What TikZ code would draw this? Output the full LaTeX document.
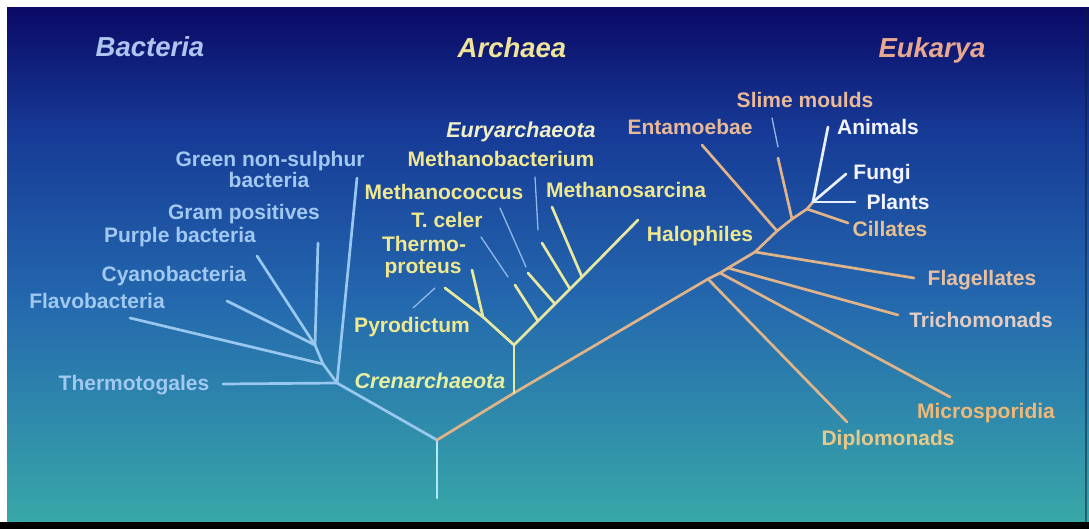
\documentclass[tikz,border=0pt]{standalone}
\usepackage{fontspec}
\setmainfont{Liberation Sans}
\definecolor{bgA}{HTML}{0A0A66}
\definecolor{bgB}{HTML}{163A96}
\definecolor{bgC}{HTML}{2468AE}
\definecolor{bgD}{HTML}{38A8A8}
\definecolor{bactline}{HTML}{98C8F0}
\definecolor{rootline}{HTML}{B0E8F8}
\definecolor{archline}{HTML}{E8E8A0}
\definecolor{eukline}{HTML}{E0B488}
\definecolor{whline}{HTML}{E8F0FF}
\definecolor{leadline}{HTML}{90B8E8}
\definecolor{bacttxt}{HTML}{A0C8F0}
\definecolor{bacttitle}{HTML}{B0C4F0}
\definecolor{archtxt}{HTML}{F0E890}
\definecolor{archtitle}{HTML}{F0E498}
\definecolor{eurytxt}{HTML}{F0F0C8}
\definecolor{crentxt}{HTML}{E8F0A0}
\definecolor{euktitle}{HTML}{E8A890}
\definecolor{euktxt}{HTML}{E8B898}
\definecolor{whtxt}{HTML}{F4F4FF}
\definecolor{cilltxt}{HTML}{E8C090}
\definecolor{flagtxt}{HTML}{E8C0A0}
\definecolor{trichtxt}{HTML}{E4CCC4}
\definecolor{microtxt}{HTML}{F0B878}
\definecolor{diplotxt}{HTML}{E8C888}
\tikzset{
  branchline/.style={line width=2.7pt, line cap=round, line join=round},
  bact/.style={branchline, draw=bactline},
  rootst/.style={branchline, draw=rootline},
  arch/.style={branchline, draw=archline},
  euk/.style={branchline, draw=eukline},
  wht/.style={branchline, draw=whline},
  leader/.style={line width=1.3pt, draw=leadline, line cap=round},
  lbl/.style={anchor=base, inner sep=0pt, font=\bfseries\fontsize{21}{24}\selectfont},
  ttl/.style={anchor=base, inner sep=0pt, font=\bfseries\itshape\fontsize{27.5}{30}\selectfont},
  itl/.style={anchor=base, inner sep=0pt, font=\bfseries\itshape\fontsize{21.5}{24}\selectfont},
}
\begin{document}
\begin{tikzpicture}[x=1pt,y=-1pt]
\useasboundingbox (0,0) rectangle (1089,529);
% background
\fill[white] (0,0) rectangle (1089,529);
\shade[top color=bgA, bottom color=bgB] (7,8) rectangle (1089,131);
\shade[top color=bgB, bottom color=bgC] (7,130) rectangle (1089,301);
\shade[top color=bgC, bottom color=bgD] (7,300) rectangle (1089,522);
\fill[black] (0,522) rectangle (1089,529);
\fill[black!70!bgC, opacity=0.5] (1085,8) rectangle (1087,522);

% ---- coordinates ----
\coordinate (rb) at (437,498);
\coordinate (r) at (437,440);
% bacteria
\coordinate (B0) at (337,383);
\coordinate (B1) at (323,364);
\coordinate (B2) at (315,345);
\coordinate (tT) at (223,384);
\coordinate (tG) at (357,178);
\coordinate (tF) at (130,318);
\coordinate (tC) at (227,301);
\coordinate (tP) at (257,256);
\coordinate (tGr) at (318,243);
% archaea
\coordinate (A0) at (514,393);
\coordinate (A1) at (514,345);
\coordinate (A2) at (483,317);
\coordinate (tPy) at (445,288);
\coordinate (tTh) at (472,270);
\coordinate (a1) at (538,321);
\coordinate (a2) at (555,304);
\coordinate (a3) at (570,289);
\coordinate (a4) at (582,277);
\coordinate (ta1) at (515,285);
\coordinate (ta2) at (528,273);
\coordinate (ta3) at (542,243);
\coordinate (ta4) at (552,207);
\coordinate (tH) at (638,220);
% eukarya
\coordinate (E1) at (708,279);
\coordinate (E2) at (720,273);
\coordinate (E3) at (728,268);
\coordinate (E4) at (755,252);
\coordinate (E5) at (777,231);
\coordinate (E6) at (792,219);
\coordinate (E7) at (807,209);
\coordinate (E8) at (813,202);
\coordinate (tDi) at (847,422);
\coordinate (tMi) at (950,397);
\coordinate (tTr) at (898,315);
\coordinate (tFl) at (914,278);
\coordinate (tEn) at (702,145);
\coordinate (tSl) at (778,158);
\coordinate (tCi) at (848,223);
\coordinate (tAn) at (828,127);
\coordinate (tFu) at (846,174);
\coordinate (tPl) at (855,202);
% leader ends
\coordinate (lPy1) at (413,308); \coordinate (lPy2) at (435,288);
\coordinate (lTc1) at (481,237); \coordinate (lTc2) at (508,277);
\coordinate (lMc1) at (500,208); \coordinate (lMc2) at (526,267);
\coordinate (lMb1) at (535,177); \coordinate (lMb2) at (538,230);
\coordinate (lSl1) at (772,118); \coordinate (lSl2) at (778,147);

% ---- branches ----
\draw[rootst] (rb) -- (r);
\draw[bact] (r) -- (B0) -- (B1) -- (B2);
\draw[bact] (B0) -- (tT);
\draw[bact] (B0) -- (tG);
\draw[bact] (B1) -- (tF);
\draw[bact] (B2) -- (tC);
\draw[bact] (B2) -- (tP);
\draw[bact] (B2) -- (tGr);

\draw[euk] (r) -- (A0) -- (E1) -- (E2) -- (E3) -- (E4) -- (E5) -- (E6) -- (E7) -- (E8);
\draw[euk] (E1) -- (tDi);
\draw[euk] (E2) -- (tMi);
\draw[euk] (E3) -- (tTr);
\draw[euk] (E4) -- (tFl);
\draw[euk] (E5) -- (tEn);
\draw[euk] (E6) -- (tSl);
\draw[euk] (E7) -- (tCi);
\draw[wht] (E8) -- (tAn);
\draw[wht] (E8) -- (tFu);
\draw[wht] (E8) -- (tPl);

\draw[arch] (A0) -- (A1);
\draw[arch] (A1) -- (A2) -- (tPy);
\draw[arch] (A2) -- (tTh);
\draw[arch] (A1) -- (a1) -- (a2) -- (a3) -- (a4) -- (tH);
\draw[arch] (a1) -- (ta1);
\draw[arch] (a2) -- (ta2);
\draw[arch] (a3) -- (ta3);
\draw[arch] (a4) -- (ta4);

% leaders
\draw[leader] (lPy1) -- (lPy2);
\draw[leader] (lTc1) -- (lTc2);
\draw[leader] (lMc1) -- (lMc2);
\draw[leader] (lMb1) -- (lMb2);
\draw[leader] (lSl1) -- (lSl2);

% ---- titles ----
\node[ttl, text=bacttitle] (tBact) at (150,57) {Bacteria};
\node[ttl, text=archtitle] (tArch) at (512,58) {Archaea};
\node[ttl, text=euktitle] (tEuk) at (932,58) {Eukarya};

% ---- bacteria labels ----
\node[lbl, text=bacttxt] (nG1) at (270,167) {Green non-sulphur};
\node[lbl, text=bacttxt] (nG2) at (269,188) {bacteria};
\node[lbl, text=bacttxt] (nGr) at (244,220) {Gram positives};
\node[lbl, text=bacttxt] (nPu) at (180,243) {Purple bacteria};
\node[lbl, text=bacttxt] (nCy) at (174,282) {Cyanobacteria};
\node[lbl, text=bacttxt] (nFl) at (97,308) {Flavobacteria};
\node[lbl, text=bacttxt] (nTt) at (134,390) {Thermotogales};

% ---- archaea labels ----
\node[itl, text=eurytxt] (nEu) at (521,138) {Euryarchaeota};
\node[lbl, text=archtxt] (nMb) at (501,167) {Methanobacterium};
\node[lbl, text=archtxt] (nMc) at (444,200) {Methanococcus};
\node[lbl, text=archtxt] (nMs) at (626,198) {Methanosarcina};
\node[lbl, text=archtxt] (nTc) at (447,228) {T. celer};
\node[lbl, text=archtxt] (nTp1) at (424,252) {Thermo-};
\node[lbl, text=archtxt] (nTp2) at (423,273) {proteus};
\node[lbl, text=archtxt] (nHa) at (700,242) {Halophiles};
\node[lbl, text=archtxt] (nPy) at (412,332) {Pyrodictum};
\node[itl, text=crentxt] (nCr) at (430,388) {Crenarchaeota};

% ---- eukarya labels ----
\node[lbl, text=euktxt] (nSl) at (805,108) {Slime moulds};
\node[lbl, text=euktxt] (nEn) at (690,135) {Entamoebae};
\node[lbl, text=whtxt] (nAn) at (878,135) {Animals};
\node[lbl, text=whtxt] (nFu) at (882,180) {Fungi};
\node[lbl, text=whtxt] (nPl) at (898,210) {Plants};
\node[lbl, text=cilltxt] (nCi) at (890,237) {Cillates};
\node[lbl, text=flagtxt] (nFg) at (982,285) {Flagellates};
\node[lbl, text=trichtxt] (nTr) at (981,327) {Trichomonads};
\node[lbl, text=microtxt] (nMi) at (986,418) {Microsporidia};
\node[lbl, text=diplotxt] (nDi) at (888,445) {Diplomonads};
\end{tikzpicture}
\end{document}
